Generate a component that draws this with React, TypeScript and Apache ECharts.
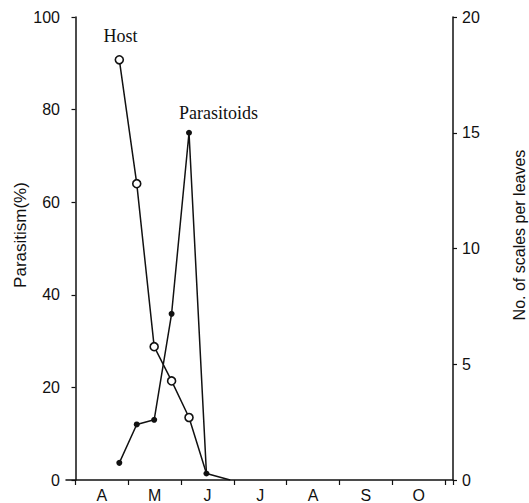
import React, { useEffect, useRef } from "react";
import * as echarts from "echarts";

const monthLabels = ["A", "M", "J", "J", "A", "S", "O"];
const monthTicks = [0, 1, 2, 3, 4, 5, 6, 7, 7.15];
const monthLabelPos = [0.5, 1.5, 2.5, 3.5, 4.5, 5.5, 6.5];
const sampleX = [0.83, 1.16, 1.49, 1.82, 2.15, 2.48];
const parasitism = [3.7, 12.0, 13.0, 35.9, 75.0, 1.4];
const hostX = [0.83, 1.16, 1.49, 1.82, 2.15, 2.48, 2.93];
const hostScales = [18.15, 12.8, 5.76, 4.28, 2.7, 0.28, 0];
const hostMarkerShown = [true, true, true, true, true, false, false];

const SANS = "'Liberation Sans', Arial, sans-serif";
const SERIF = "'Liberation Serif', 'Times New Roman', serif";
const INK = "#111";

export default function App() {
  const ref = useRef<HTMLDivElement>(null);
  useEffect(() => {
    if (!ref.current) return;
    const chart = echarts.init(ref.current, undefined, { renderer: "svg" });
    const axisLine = { show: true, lineStyle: { color: INK, width: 1.5 } };
    chart.setOption({
      animation: false,
      backgroundColor: "#fff",
      grid: { left: 66, right: 76, top: 17, bottom: 21, containLabel: false },
      xAxis: {
        type: "value",
        min: -0.18,
        max: 7.15,
        axisLine,
        splitLine: { show: false },
        axisTick: { show: true, customValues: monthTicks, length: 5, lineStyle: { color: INK, width: 1.2 } },
        axisLabel: {
          customValues: monthLabelPos,
          formatter: (v: number) => monthLabels[Math.floor(v)] ?? "",
          margin: 7,
          fontSize: 16,
          color: INK,
          fontFamily: SANS,
        },
      },
      yAxis: [
        {
          type: "value",
          min: 0,
          max: 100,
          interval: 20,
          position: "left",
          axisLine,
          splitLine: { show: false },
          axisTick: { show: true, length: 4, lineStyle: { color: INK, width: 1.2 } },
          axisLabel: { margin: 6, fontSize: 16, color: INK, fontFamily: SANS },
        },
        {
          type: "value",
          min: 0,
          max: 20,
          interval: 5,
          position: "right",
          axisLine,
          splitLine: { show: false },
          axisTick: { show: true, length: 4, lineStyle: { color: INK, width: 1.2 } },
          axisLabel: { margin: 9, fontSize: 16, color: INK, fontFamily: SANS },
        },
      ],
      series: [
        {
          name: "Parasitoids",
          type: "line",
          yAxisIndex: 0,
          data: sampleX.map((x, i) => [x, parasitism[i]]),
          symbol: "circle",
          symbolSize: 6,
          itemStyle: { color: INK },
          lineStyle: { color: INK, width: 1.5 },
          z: 3,
        },
        {
          name: "Host",
          type: "line",
          yAxisIndex: 1,
          data: hostX.map((x, i) => ({
            value: [x, hostScales[i]],
            symbol: hostMarkerShown[i] ? "circle" : "none",
          })),
          symbol: "circle",
          symbolSize: 8,
          itemStyle: { color: "#fff", borderColor: INK, borderWidth: 1.6 },
          lineStyle: { color: INK, width: 1.5 },
          z: 4,
        },
      ],
      graphic: [
        {
          type: "text",
          x: 120.5,
          y: 36,
          style: { text: "Host", font: `18px ${SERIF}`, fill: INK, align: "center", verticalAlign: "middle" },
        },
        {
          type: "text",
          x: 218.5,
          y: 113,
          style: { text: "Parasitoids", font: `18px ${SERIF}`, fill: INK, align: "center", verticalAlign: "middle" },
        },
        {
          type: "text",
          x: 20,
          y: 235,
          rotation: Math.PI / 2,
          style: { text: "Parasitism(%)", font: `17px ${SANS}`, fill: INK, align: "center", verticalAlign: "middle" },
        },
        {
          type: "text",
          x: 519,
          y: 235,
          rotation: Math.PI / 2,
          style: { text: "No. of scales per leaves", font: `16px ${SANS}`, fill: INK, align: "center", verticalAlign: "middle" },
        },
      ],
    });
    return () => chart.dispose();
  }, []);
  return <div ref={ref} style={{ position: "absolute", left: 0, top: 0, width: 529, height: 503 }} />;
}
